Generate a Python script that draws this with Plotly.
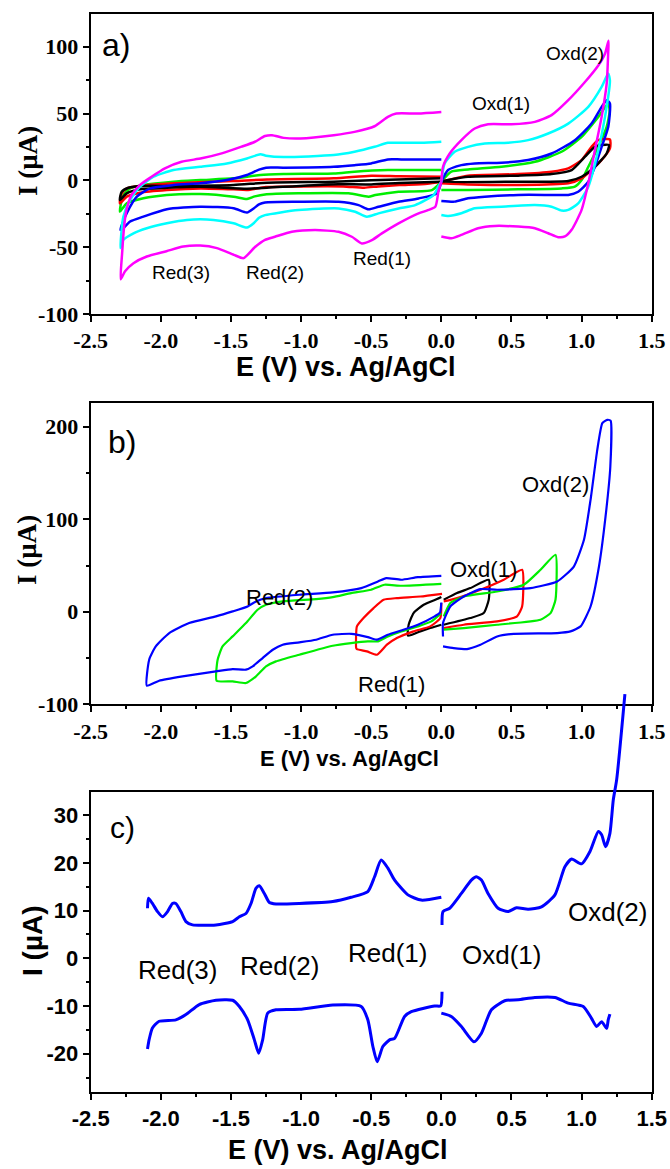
import plotly.graph_objects as go

# ---------------- panel a: CVs at increasing scan rate ----------------
# each colour: NEG = sweep 0 -> -2.3 V and back, POS = sweep 0 -> +1.2 V and back
A_BLACK_NEG_E = [0.0, -0.3, -0.5, -0.8, -1.243, -1.386, -1.719, -1.957, -2.148, -2.243, -2.292,
                 -2.279, -2.231, -2.124, -1.91, -1.481, -1.243, -0.767, -0.5, 0.0]
A_BLACK_NEG_I = [-1, -2, -3, -3, -5.5, -6.2, -4.7, -5.5, -6.7, -9.7, -14.7,
                 -8.5, -5.5, -4.2, -4.2, -3.5, -1.7, -1, 0, 1.5]
A_BLACK_POS_E = [0.0, 0.19, 0.548, 0.786, 0.929, 1.024, 1.095, 1.143, 1.195, 1.179, 1.095, 1.0, 0.905, 0.548, 0.0]
A_BLACK_POS_I = [-1, 2.7, 3.5, 4.7, 7.7, 17.7, 25.1, 26.4, 26.4, 20.1, 10.2, 2.7, -0.5, -1, -1]

A_RED_NEG_E = [0.0, -0.1, -0.3, -0.45, -0.55, -0.7, -1.0, -1.25, -1.386, -1.481, -1.719, -1.957, -2.148, -2.243, -2.292,
               -2.279, -2.243, -2.148, -1.91, -1.481, -1.243, -0.767, -0.5, -0.3, 0.0]
A_RED_NEG_I = [-1, -2.5, -3.5, -4.5, -5.5, -4.5, -4.5, -5, -7.2, -6.7, -6, -7.2, -9.2, -12.2, -17.2,
               -9.7, -6, -4.2, -2.2, -0.5, 0.7, 1.5, 3.5, 3, 2.7]
A_RED_POS_E = [0.0, 0.19, 0.548, 0.786, 0.905, 1.0, 1.071, 1.119, 1.202, 1.202, 1.143, 1.071, 1.0, 0.905, 0.548, 0.19, 0.0]
A_RED_POS_I = [-1, 3.5, 4.7, 6.5, 9, 15.2, 25.1, 30.1, 30.6, 23.9, 15.2, 7.7, 1.5, -2.2, -3.5, -3, -2.2]

A_GREEN_NEG_E = [0.0, -0.067, -0.305, -0.471, -0.519, -0.662, -1.019, -1.257, -1.33, -1.386, -1.481, -1.719, -1.957,
                 -2.124, -2.243, -2.292,
                 -2.267, -2.219, -2.124, -1.91, -1.719, -1.481, -1.29, -1.124, -0.767, -0.619, -0.381, 0.0]
A_GREEN_NEG_I = [-1, -7.3, -8.5, -11, -12.2, -9.7, -9.7, -10.5, -12, -13.9, -12.2, -10.2, -10.9,
                 -13.4, -17.2, -23.4,
                 -10.9, -6, -3.5, -1, 0.2, 1.5, 4, 4.7, 5.2, 6.5, 7.7, 7.7]
A_GREEN_POS_E = [0.0, 0.071, 0.19, 0.429, 0.667, 0.857, 1.0, 1.119, 1.19, 1.2, 1.179, 1.119, 1.048, 1.0, 0.952, 0.857,
                 0.548, 0.19, 0.0]
A_GREEN_POS_I = [-1, 6.5, 8.2, 10.2, 13.9, 21.4, 32.6, 47.5, 57.5, 52, 40, 25.1, 10.2, 0.2, -4.7, -6, -6.7, -7.2, -7.2]

A_BLUE_NEG_E = [0.0, -0.031, -0.162, -0.305, -0.448, -0.519, -0.59, -0.733, -1.019, -1.257, -1.3, -1.338, -1.386,
                -1.481, -1.719, -1.957, -2.124, -2.219, -2.267, -2.288,
                -2.243, -2.171, -2.076, -1.91, -1.719, -1.529, -1.386, -1.3, -1.25, -1.124, -0.767, -0.619, -0.5,
                -0.381, -0.286, 0.0]
A_BLUE_NEG_I = [-1, -9.7, -13.5, -16, -19.8, -21.7, -18.5, -16, -16, -16.5, -18, -21, -24.1,
                -20.9, -19.7, -21.6, -27.1, -30.8, -35.8, -37,
                -24.6, -12.2, -6, -3.5, -2.2, 0.2, 4, 8, 9.5, 9.5, 10.2, 11.4, 12.7,
                15.7, 15.7, 15.7]
A_BLUE_POS_E = [0.0, 0.048, 0.143, 0.238, 0.429, 0.619, 0.786, 0.952, 1.071, 1.143, 1.179, 1.202, 1.19, 1.143, 1.095,
                1.048, 0.976, 0.905, 0.786, 0.548, 0.31, 0.19, 0.095, 0.0]
A_BLUE_POS_I = [-1, 7.7, 11.4, 12.7, 13.2, 15.2, 20.1, 30.1, 42.5, 55, 60, 57.5, 40, 25.1, 10.2,
                -1, -8.5, -10.9, -10.9, -10.9, -12.2, -13.4, -15.9, -15.4]

A_CYAN_NEG_E = [0.0, -0.02, -0.055, -0.186, -0.305, -0.448, -0.531, -0.614, -0.733, -1.019, -1.257, -1.3, -1.338,
                -1.386, -1.481, -1.624, -1.814, -1.957, -2.1, -2.195, -2.267, -2.288,
                -2.267, -2.219, -2.148, -2.052, -1.91, -1.719, -1.529, -1.386, -1.29, -1.25, -1.124, -0.767, -0.619,
                -0.476, -0.381, -0.286, -0.143, 0.0]
A_CYAN_NEG_I = [-1, -4.3, -11, -18.5, -21, -24.7, -27.2, -23.5, -21, -22.2, -26, -28, -32.1,
                -35.3, -32.1, -29.6, -29.6, -32.1, -35.8, -39.6, -44.5, -50.7,
                -27.1, -14.7, -4.7, 2.7, 7.7, 10.2, 12.7, 16.4, 19.5, 18.5, 17.5, 18.9, 21.4,
                25.1, 28.1, 28.1, 28.1, 28.9]
A_CYAN_POS_E = [0.0, 0.024, 0.095, 0.19, 0.31, 0.476, 0.619, 0.762, 0.905, 1.048, 1.143, 1.19, 1.202, 1.167, 1.119,
                1.048, 0.976, 0.905, 0.857, 0.786, 0.667, 0.429, 0.238, 0.143, 0.048, 0.0]
A_CYAN_POS_I = [-1, 12.7, 21.4, 25.1, 27.6, 28.1, 30.1, 35.1, 42.5, 55, 69.9, 79.9, 74.9, 47.5, 22.6,
                -4.7, -17.2, -22.1, -22.6, -19.7, -18.4, -19.7, -20.9, -24.6, -26.6, -25.9]

A_MAGENTA_NEG_E = [0.0, -0.02, -0.043, -0.1, -0.162, -0.305, -0.424, -0.495, -0.567, -0.638, -0.733, -0.9, -1.066,
                   -1.186, -1.257, -1.33, -1.41, -1.48, -1.6, -1.72, -1.84, -1.96, -2.1, -2.195, -2.255, -2.286,
                   -2.276, -2.262, -2.245, -2.209, -2.15, -2.066, -1.971, -1.852, -1.709, -1.566, -1.424, -1.329,
                   -1.257, -1.207, -1.124, -1.005, -0.767, -0.619, -0.476, -0.381, -0.321, -0.167, 0.0]
A_MAGENTA_NEG_I = [-1, -8, -19.8, -22.5, -24.7, -32.2, -39.7, -44.7, -47.2, -42.2, -38.5, -37.2, -38.5,
                   -42.2, -44.5, -50, -58.2, -55.7, -50.7, -48.8, -49.5, -53, -57, -62, -68, -74,
                   -54.6, -34.7, -22.2, -11, -3.5, 2.7, 9, 13.9, 16.5, 20.2, 25.2, 28.9,
                   33.2, 33.8, 31.8, 31.3, 33.8, 36.3, 40.5, 47.5, 50, 50, 51.2]
A_MAGENTA_POS_E = [0.0, 0.012, 0.06, 0.143, 0.238, 0.333, 0.5, 0.667, 0.786, 0.905, 1.024, 1.119, 1.167, 1.192, 1.19,
                   1.179, 1.143, 1.095, 1.048, 1.0, 0.929, 0.881, 0.833, 0.762, 0.667, 0.548, 0.381, 0.262, 0.143,
                   0.071, 0.0]
A_MAGENTA_POS_I = [-1, 10.2, 20.1, 30.1, 38.8, 42, 42, 43.8, 48.8, 60, 73.6, 86, 94.8, 104.5, 96,
                   72.4, 47.5, 22.6, -2.2, -22.1, -37, -42, -42.5, -39.6, -35.8, -34.6, -34.1, -35.8, -40.8,
                   -43.3, -42]

# ---------------- panel b: CVs with widening potential windows ----------------
B_BLACK_NEG_E = [0.0, -0.079, -0.15, -0.238, -0.233, -0.198, -0.126, -0.031, 0.0]
B_BLACK_NEG_I = [-14, -17.6, -21.2, -25.9, -14, -1.4, 7.6, 13.7, 16]
B_BLACK_POS_E = [0.017, 0.112, 0.207, 0.338, 0.338, 0.302, 0.207, 0.017]
B_BLACK_POS_I = [13, 20.2, 25.6, 34.6, 13, -1.4, -6.8, -14]

B_RED_NEG_E = [0.0, -0.007, -0.079, -0.198, -0.317, -0.388, -0.459, -0.531, -0.602, -0.607, -0.602, -0.555, -0.483,
               -0.412, -0.317, -0.15, 0.005]
B_RED_NEG_I = [9.4, -6.8, -15.8, -21.2, -28.4, -35.6, -46.4, -42.8, -40.3, -39.2, -15.8, -6.8, 4,
               13, 14.8, 16.5, 19.4]
B_RED_POS_E = [0.017, 0.112, 0.279, 0.445, 0.576, 0.576, 0.54, 0.398, 0.16, 0.017]
B_RED_POS_I = [11.2, 14.8, 23.8, 34.6, 45.4, 5.7, -5, -10.4, -14, -17.6]

B_GREEN_NEG_E = [0.0, -0.071, -0.167, -0.286, -0.381, -0.452, -0.524, -0.643, -0.774, -1.012, -1.179, -1.25, -1.321,
                 -1.393, -1.488, -1.602,
                 -1.595, -1.56, -1.488, -1.393, -1.31, -1.25, -1.131, -0.893, -0.774, -0.643, -0.5, -0.405, -0.286, 0.0]
B_GREEN_NEG_I = [-1.4, -10.4, -15.8, -21.2, -26.6, -32, -32, -33.8, -36.7, -46.4, -53.6, -59, -69.8,
                 -77, -75.2, -74.5,
                 -51.8, -37.4, -26.6, -12.2, 2.2, 7.6, 11.2, 13.7, 15.8, 20.2, 23.8, 29.2, 28.1, 30.2]
B_GREEN_POS_E = [0.017, 0.064, 0.16, 0.398, 0.588, 0.707, 0.814, 0.814, 0.779, 0.707, 0.398, 0.16, 0.017]
B_GREEN_POS_I = [-5, 9.4, 16.5, 21.9, 29.2, 45.4, 61.6, 13, -1.4, -8.6, -14, -17.6, -19.4]

B_BLUE_NEG_E = [0.0, -0.01, -0.048, -0.167, -0.286, -0.381, -0.464, -0.524, -0.643, -0.774, -0.893, -1.012, -1.131,
                -1.202, -1.274, -1.345, -1.393, -1.488, -1.607, -1.845, -2.012, -2.1,
                -2.083, -2.036, -1.94, -1.798, -1.607, -1.488, -1.381, -1.321, -1.25, -1.012, -0.774, -0.571,
                -0.452, -0.393, -0.286, -0.167, 0.0]
B_BLUE_NEG_I = [10, -1, -5, -14, -20.2, -24.8, -30.2, -27.4, -23.8, -24.8, -30.2, -33.1, -35.6,
                -41, -50, -59, -62.6, -61.9, -64.4, -69.8, -74.5, -79.9,
                -51.8, -37.4, -23, -12.2, -5, 0.4, 5.8, 11.2, 14.8, 18.4, 20.9, 25.6,
                32.8, 36.4, 34.6, 37.4, 38.9]
B_BLUE_POS_E = [0.012, 0.012, 0.064, 0.16, 0.279, 0.398, 0.636, 0.826, 0.945, 1.017, 1.064, 1.112, 1.148, 1.183,
                1.207, 1.205, 1.171, 1.124, 1.064, 0.993, 0.921, 0.826, 0.517, 0.398, 0.279, 0.183, 0.088, 0.012]
B_BLUE_POS_I = [-26.7, -12.2, 5.7, 16.5, 24.5, 23.8, 25.6, 32.8, 48.9, 77.8, 121, 175, 203.8, 207.4,
                206.6, 157, 103, 48.9, 5.7, -15.8, -21.2, -23, -23.8, -26.7, -35.6, -40.3, -39.2, -37.4]

# ---------------- panel c: differential pulse voltammograms ----------------
C_UP_NEG_E = [-2.095, -2.088, -2.06, -2.024, -1.988, -1.952, -1.917, -1.893, -1.857, -1.821, -1.774, -1.607, -1.488,
              -1.44, -1.393, -1.357, -1.321, -1.298, -1.262, -1.226, -1.179, -1.012, -0.774, -0.643, -0.524, -0.476,
              -0.429, -0.381, -0.333, -0.238, -0.143, 0.0]
C_UP_NEG_I = [10.5, 12.6, 11.5, 9.8, 8.7, 9.8, 11.5, 11.5, 9.8, 7.7, 7.0, 7.0, 7.7,
              8.7, 9.4, 11.5, 14.7, 15.2, 13.6, 11.7, 11.4, 11.5, 11.9, 12.8, 14.0, 17.1,
              20.6, 18.9, 16.4, 13.3, 12.2, 12.8]
C_UP_POS_E = [0.005, 0.012, 0.06, 0.143, 0.214, 0.25, 0.286, 0.333, 0.405, 0.476, 0.536, 0.619, 0.714, 0.81, 0.881,
              0.929, 1.0, 1.06, 1.119, 1.143, 1.171, 1.202, 1.226, 1.25, 1.309]
C_UP_POS_I = [7.0, 9.8, 10.5, 13.6, 16.4, 17.1, 16.4, 13.6, 10.5, 9.8, 10.6, 10.3, 10.8, 13.3, 19.2,
              20.8, 19.8, 22.4, 26.6, 25.9, 23.4, 26.2, 33.2, 37.4, 55.4]
C_DN_NEG_E = [-2.095, -2.083, -2.06, -2.012, -1.893, -1.821, -1.726, -1.607, -1.488, -1.44, -1.381, -1.333, -1.302,
              -1.274, -1.238, -1.179, -1.012, -0.774, -0.571, -0.524, -0.488, -0.457, -0.417, -0.369, -0.333, -0.262,
              -0.214, -0.048, -0.005, 0.005]
C_DN_NEG_I = [-19, -17, -14.6, -13.2, -12.9, -11.8, -9.7, -8.8, -8.8, -10.1, -12.9, -17.1, -19.9,
              -17.1, -11.5, -10.8, -10.7, -9.8, -10.1, -12.9, -18.5, -21.7, -18.5, -17.1, -16.8, -12.2,
              -11.2, -10, -10, -7]
C_DN_POS_E = [0.0, 0.071, 0.143, 0.233, 0.286, 0.357, 0.452, 0.548, 0.667, 0.81, 0.905, 1.012, 1.071, 1.107, 1.143,
              1.179, 1.19, 1.202]
C_DN_POS_I = [-11.5, -12.2, -14.3, -17.5, -15.7, -10.8, -8.9, -8.7, -8.2, -8.2, -9.4, -10.1, -12.6, -14.3, -13.3,
              -14.7, -12.9, -11.7]

# ---------------- tick values ----------------
X_TICKS = [-2.5, -2.0, -1.5, -1.0, -0.5, 0.0, 0.5, 1.0, 1.5]
A_Y_TICKS = [-100, -50, 0, 50, 100]
B_Y_TICKS = [-100, 0, 100, 200]
C_Y_TICKS = [-20, -10, 0, 10, 20, 30]

# peak labels: (text, E, I)
A_LABELS = [("Red(3)", -1.854, -68.6), ("Red(2)", -1.186, -68.6), ("Red(1)", -0.421, -58.2),
            ("Oxd(1)", 0.429, 57.8), ("Oxd(2)", 0.95, 95.2)]
B_LABELS = [("Red(2)", -1.154, 15.7), ("Red(1)", -0.354, -78.8),
            ("Oxd(1)", 0.30, 45.9), ("Oxd(2)", 0.814, 137.7)]
C_LABELS = [("Red(3)", -1.879, -2.5), ("Red(2)", -1.154, -1.6), ("Red(1)", -0.382, 1.1),
            ("Oxd(1)", 0.429, 0.7), ("Oxd(2)", 1.182, 9.7)]

# ---------------- geometry (pixels of a 670 x 1169 page) ----------------
W, H = 670, 1169
X_LEFT, X_RIGHT = 90.7, 651.7
A_TOP, A_BOT = 14.0, 314.0
B_TOP, B_BOT = 403.3, 704.3
C_TOP, C_BOT = 791.7, 1091.7
C_EXT_TOP = 680.0  # the rising tail of panel c runs above its frame


def ydom(top, bot):
    return [1 - bot / H, 1 - top / H]


XDOM = [X_LEFT / W, X_RIGHT / W]
A_RANGE = [-100, 124.5]
B_RANGE = [-100, 225.3]
C_RANGE = [-27.97, 34.93]
c_span = C_BOT - C_TOP
C_EXT_RANGE = [C_RANGE[0], C_RANGE[1] + (C_RANGE[1] - C_RANGE[0]) * (C_TOP - C_EXT_TOP) / c_span]

SERIF_B = dict(family="Liberation Serif", size=22, color="black", weight="bold")
SANS_B = dict(family="Liberation Sans", size=22, color="black", weight="bold")


def xaxis(anchor, font):
    return dict(domain=XDOM, range=[-2.5, 1.5], anchor=anchor, automargin=False,
                showline=True, linewidth=2, linecolor="black",
                mirror=True, ticks="outside", ticklen=6, tickwidth=2, tickcolor="black",
                tickmode="array", tickvals=X_TICKS, ticktext=[f"{v:.1f}" for v in X_TICKS],
                tickfont=font, showgrid=False, zeroline=False,
                minor=dict(ticks="outside", ticklen=3, tickwidth=1.5, tickcolor="black",
                           tick0=-2.5, dtick=0.25, showgrid=False))


def yaxis(anchor, dom, rng, vals, minor_step, font):
    return dict(domain=dom, range=rng, anchor=anchor, automargin=False,
                showline=True, linewidth=2, linecolor="black",
                mirror=True, ticks="outside", ticklen=6, tickwidth=2, tickcolor="black",
                tickmode="array", tickvals=vals, ticktext=[str(v) for v in vals],
                tickfont=font, showgrid=False, zeroline=False,
                minor=dict(ticks="outside", ticklen=3, tickwidth=1.5, tickcolor="black",
                           tick0=0, dtick=minor_step, showgrid=False))


fig = go.Figure()


def add(x, y, color, width, xa, ya, smooth=0.6):
    fig.add_trace(go.Scatter(x=x, y=y, mode="lines", xaxis=xa, yaxis=ya, showlegend=False,
                             line=dict(color=color, width=width, shape="spline", smoothing=smooth)))


BLACK, RED, GREEN, BLUE, CYAN, MAGENTA = "#000000", "#ff0000", "#00ee00", "#0000ff", "#00ffff", "#ff00ff"

# panel a
for neg_e, neg_i, pos_e, pos_i, col in [
    (A_GREEN_NEG_E, A_GREEN_NEG_I, A_GREEN_POS_E, A_GREEN_POS_I, GREEN),
    (A_RED_NEG_E, A_RED_NEG_I, A_RED_POS_E, A_RED_POS_I, RED),
    (A_BLACK_NEG_E, A_BLACK_NEG_I, A_BLACK_POS_E, A_BLACK_POS_I, BLACK),
    (A_BLUE_NEG_E, A_BLUE_NEG_I, A_BLUE_POS_E, A_BLUE_POS_I, BLUE),
    (A_CYAN_NEG_E, A_CYAN_NEG_I, A_CYAN_POS_E, A_CYAN_POS_I, CYAN),
    (A_MAGENTA_NEG_E, A_MAGENTA_NEG_I, A_MAGENTA_POS_E, A_MAGENTA_POS_I, MAGENTA),
]:
    add(neg_e, neg_i, col, 2.5, "x", "y")
    add(pos_e, pos_i, col, 2.5, "x", "y")

# panel b
for neg_e, neg_i, pos_e, pos_i, col in [
    (B_BLACK_NEG_E, B_BLACK_NEG_I, B_BLACK_POS_E, B_BLACK_POS_I, BLACK),
    (B_RED_NEG_E, B_RED_NEG_I, B_RED_POS_E, B_RED_POS_I, RED),
    (B_GREEN_NEG_E, B_GREEN_NEG_I, B_GREEN_POS_E, B_GREEN_POS_I, GREEN),
    (B_BLUE_NEG_E, B_BLUE_NEG_I, B_BLUE_POS_E, B_BLUE_POS_I, BLUE),
]:
    add(neg_e, neg_i, col, 2.2, "x2", "y2", smooth=0.5)
    add(pos_e, pos_i, col, 2.2, "x2", "y2", smooth=0.5)

# panel c
add(C_UP_NEG_E, C_UP_NEG_I, BLUE, 3, "x3", "y3")
add(C_DN_NEG_E, C_DN_NEG_I, BLUE, 3, "x3", "y3")
add(C_DN_POS_E, C_DN_POS_I, BLUE, 3, "x3", "y3")
add(C_UP_POS_E, C_UP_POS_I, BLUE, 3, "x4", "y4")

fig.update_layout(
    width=W, height=H, margin=dict(l=0, r=0, t=0, b=0, pad=0, autoexpand=False),
    paper_bgcolor="white", plot_bgcolor="rgba(0,0,0,0)", showlegend=False,
    xaxis=xaxis("y", SERIF_B),
    yaxis=yaxis("x", ydom(A_TOP, A_BOT), A_RANGE, A_Y_TICKS, 25, SERIF_B),
    xaxis2=xaxis("y2", SERIF_B),
    yaxis2=yaxis("x2", ydom(B_TOP, B_BOT), B_RANGE, B_Y_TICKS, 50, SERIF_B),
    xaxis3=xaxis("y3", SANS_B),
    yaxis3=yaxis("x3", ydom(C_TOP, C_BOT), C_RANGE, C_Y_TICKS, 5, SANS_B),
    xaxis4=dict(domain=XDOM, range=[-2.5, 1.5], anchor="y4", visible=False, automargin=False),
    yaxis4=dict(domain=ydom(C_EXT_TOP, C_BOT), range=C_EXT_RANGE, anchor="x4", visible=False, automargin=False),
)

ann = []


def label(text, x, y, xref, yref, size, family="Liberation Sans", weight="normal", angle=0):
    ann.append(dict(text=text, x=x, y=y, xref=xref, yref=yref, showarrow=False, xanchor="center",
                    yanchor="middle", textangle=angle,
                    font=dict(family=family, size=size, color="black", weight=weight)))


for t, x, y in A_LABELS:
    label(t, x, y, "x", "y", 19)
for t, x, y in B_LABELS:
    label(t, x, y, "x2", "y2", 22)
for t, x, y in C_LABELS:
    label(t, x, y, "x3", "y3", 26)

label("a)", -2.318, 101.3, "x", "y", 32)
label("b)", -2.275, 183.0, "x2", "y2", 32)
label("c)", -2.275, 27.4, "x3", "y3", 30)

XTITLE = "E (V) vs. Ag/AgCl"
YTITLE = "I (µA)"
label(XTITLE, 346 / W, 1 - 367 / H, "paper", "paper", 27, weight="bold")
label(XTITLE, 349 / W, 1 - 758 / H, "paper", "paper", 22, weight="bold")
label(XTITLE, 338 / W, 1 - 1150 / H, "paper", "paper", 27, weight="bold")
label(YTITLE, 28 / W, 1 - 161 / H, "paper", "paper", 27, family="Liberation Serif", weight="bold", angle=-90)
label(YTITLE, 27 / W, 1 - 550 / H, "paper", "paper", 27, family="Liberation Serif", weight="bold", angle=-90)
label(YTITLE, 32 / W, 1 - 941 / H, "paper", "paper", 28, weight="bold", angle=-90)

fig.update_layout(annotations=ann)
fig.write_html("out.html")
